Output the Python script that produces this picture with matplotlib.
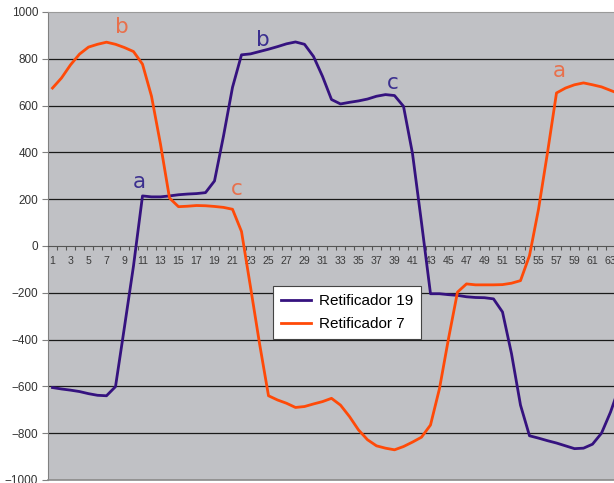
import matplotlib
matplotlib.use("Agg")
import matplotlib.pyplot as plt
import numpy as np
from matplotlib.ticker import FixedLocator

plt.rcParams['font.family'] = ['Liberation Sans', 'DejaVu Sans']

# categories 1..64 (the chart is cut just after 63)
categories = list(range(1, 65))

retificador_19 = [
    -605, -611, -616, -622, -631, -638, -640, -601, -345, -85,
    214, 210, 210, 214, 219, 222, 224, 228, 278, 470,
    678, 817, 821, 831, 841, 852, 864, 872, 862, 810,
    725, 626, 607, 614, 620, 628, 640, 647, 643, 597,
    395, 100, -204, -204, -208, -211, -217, -220, -221, -226,
    -282, -460, -680, -811, -821, -832, -842, -854, -866, -864,
    -847, -800, -710, -600,
]

retificador_7 = [
    675, 718, 774, 820, 850, 862, 871, 862, 848, 831,
    777, 640, 435, 205, 168, 170, 173, 172, 169, 165,
    157, 62, -175, -416, -640, -658, -672, -690, -686, -675,
    -665, -651, -680, -729, -786, -828, -854, -864, -871, -857,
    -838, -817, -765, -609, -396, -197, -162, -166, -166, -166,
    -165, -159, -148, -41, 157, 399, 654, 675, 689, 697,
    689, 680, 665, 650,
]

y_ticks = list(range(-1000, 1001, 200))
x_tick_labels = list(range(1, 64, 2))

# letter marks: (text, x category, y value, series colour)
marks = [
    ("b", 8.7, 936, "#e8704c"),
    ("a", 10.7, 272, "#3b2f8f"),
    ("c", 21.5, 243, "#e8704c"),
    ("b", 24.4, 881, "#3b2f8f"),
    ("c", 38.8, 698, "#3b2f8f"),
    ("a", 57.3, 749, "#e8704c"),
]

purple = "#35127f"
orange = "#ff4a08"

fig = plt.figure(figsize=(6.14, 4.83), dpi=100)
ax = fig.add_axes([48 / 614, 3 / 483, 566 / 614, 468 / 483])
ax.set_facecolor("#c0c1c5")

ax.plot(categories, retificador_19, color=purple, lw=2.0, label="Retificador 19",
        solid_joinstyle="round", zorder=4)
ax.plot(categories, retificador_7, color=orange, lw=2.0, label="Retificador 7",
        solid_joinstyle="round", zorder=4)

ax.set_xlim(0.5, 0.5 + 566 / 9)
ax.set_ylim(-1000, 1000)

# horizontal grid
for v in y_ticks:
    if v in (-1000, 0, 1000):
        continue
    ax.axhline(v, color="#1a1a1a", lw=0.9, zorder=1)
ax.axhline(-1000, color="#8a8a8a", lw=1.2, zorder=3, clip_on=False)

# category axis crossing at zero
ax.spines["bottom"].set_position(("data", 0))
ax.spines["bottom"].set_color("#555555")
ax.spines["left"].set_color("#808080")
ax.spines["top"].set_color("#9a9a9a")
ax.spines["right"].set_visible(False)

ax.xaxis.set_major_locator(FixedLocator(x_tick_labels))
ax.set_xticklabels([str(v) for v in x_tick_labels])
ax.xaxis.set_minor_locator(FixedLocator(np.arange(0.5, 64.5, 1)))
ax.tick_params(axis="x", which="major", length=0, pad=7.5, labelsize=7.6,
               labelcolor="#3a3a3a")
ax.tick_params(axis="x", which="minor", length=3, width=0.8, color="#555555",
               direction="out")

ax.set_yticks(y_ticks)
ax.tick_params(axis="y", length=4, width=0.8, color="#808080", pad=3,
               labelsize=8.5, labelcolor="#333333")

for txt, xc, yv, col in marks:
    ax.text(xc, yv, txt, color=col, fontsize=15.5, ha="center", va="center",
            family="DejaVu Sans", zorder=5)

leg = ax.legend(loc="center", bbox_to_anchor=(0.528, 0.358), fontsize=11,
                frameon=True, fancybox=False, framealpha=1, edgecolor="#444444",
                handlelength=2.0, handletextpad=0.5, borderpad=0.5,
                labelspacing=0.6, borderaxespad=0)
leg.get_frame().set_linewidth(0.8)
leg.set_zorder(6)

fig.savefig("out.png", dpi=100)
